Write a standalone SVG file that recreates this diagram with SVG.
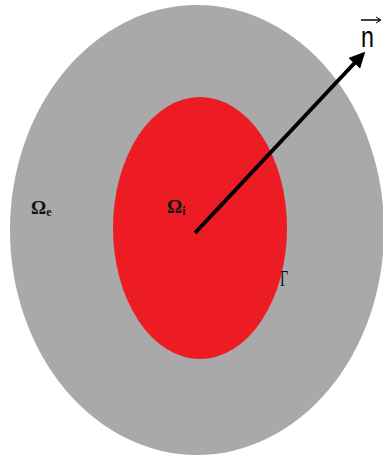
<svg xmlns="http://www.w3.org/2000/svg" width="383" height="456" viewBox="0 0 383 456">
<style>
.lbl{font-family:"Liberation Serif",serif;font-weight:bold;fill:#111}
</style>
<defs>
<marker id="ah" viewBox="0 0 10 10" refX="8" refY="5" markerWidth="4" markerHeight="4" orient="auto" markerUnits="strokeWidth">
<path d="M0,0 L10,5 L0,10 z" fill="#000"/>
</marker>
</defs>
<rect width="383" height="456" fill="#fff"/>
<g id="outer">
<ellipse cx="197" cy="230" rx="187" ry="225" fill="#a9a9a9"/>
<text class="lbl" x="31" y="214" font-size="19">Ω<tspan font-size="12" dy="2">e</tspan></text>
</g>
<g id="inner">
<ellipse cx="200" cy="228" rx="87" ry="131" fill="#ed1c24"/>
<text class="lbl" x="167" y="213" font-size="19" fill="#3a0000">Ω<tspan font-size="12" dy="2">i</tspan></text>
</g>
<g id="boundary">
<text transform="translate(280,286) scale(0.6,1)" font-family="Liberation Serif,serif" font-size="24" fill="#111">Γ</text>
</g>
<g id="connectors">
<line x1="195" y1="233" x2="363" y2="54" stroke="#000" stroke-width="4" marker-end="url(#ah)"/>
</g>
<g id="normal">
<text transform="translate(361,47) scale(0.8,1)" font-family="Liberation Sans,sans-serif" font-size="29" fill="#000">n</text>
<line x1="361" y1="20" x2="380" y2="20" stroke="#000" stroke-width="1.5"/>
<path d="M376,17 L381,20 L376,23" fill="none" stroke="#000" stroke-width="1"/>
</g>
</svg>
